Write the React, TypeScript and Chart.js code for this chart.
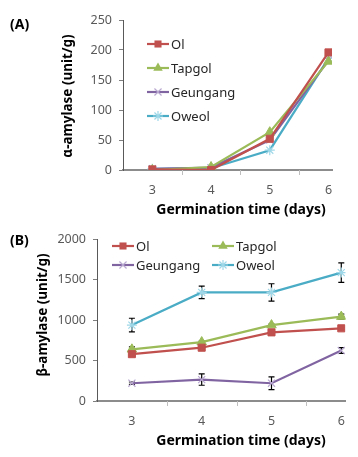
import React, { useEffect, useRef } from "react";
import { Chart, registerables } from "chart.js";

Chart.register(...registerables);

const days = [3, 4, 5, 6];
const seriesNames = ["Ol", "Tapgol", "Geungang", "Oweol"];
const colors = ["#C0504D", "#9BBB59", "#8064A2", "#4BACC6"];
const markerFill = ["#C0504D", "#9BBB59", "#B9A8D0", "#9ED8E8"];
const markers = ["rect", "triangle", "crossRot", "star"];

// (A) alpha-amylase
const alphaOl = [1, 0, 52, 196];
const alphaTapgol = [0, 5, 63, 181];
const alphaGeungang = [2, 4, 50, 183];
const alphaOweol = [2, 3, 33, 186];

// (B) beta-amylase
const betaOl = [580, 660, 850, 900];
const betaTapgol = [640, 730, 940, 1045];
const betaGeungang = [220, 265, 220, 625];
const betaOweol = [940, 1345, 1345, 1590];

const betaOlErr = [12, 12, 12, 12];
const betaTapgolErr = [30, 12, 12, 30];
const betaGeungangErr = [15, 70, 80, 35];
const betaOweolErr = [85, 78, 107, 120];

const yTicksA = [0, 50, 100, 150, 200, 250];
const yTicksB = [0, 500, 1000, 1500, 2000];

const FONT = "'Noto Sans', 'DejaVu Sans', sans-serif";

type Cfg = {
  values: number[][];
  errors?: number[][];
  yMax: number;
  yTicks: number[];
  height: number;
  left: number;
  right: number;
  top: number;
  bottom: number;
  panel: string;
  panelPos: [number, number];
  yTitle: string;
  yTitlePos: [number, number];
  xTitleY: number;
  tickPad: number;
  legend: { x: number; y: number }[];
};

function drawMarker(ctx: CanvasRenderingContext2D, style: string, x: number, y: number, r: number) {
  ctx.beginPath();
  if (style === "rect") {
    const s = r * Math.SQRT1_2;
    ctx.fillRect(x - s, y - s, 2 * s, 2 * s);
    return;
  }
  if (style === "triangle") {
    ctx.moveTo(x, y - r);
    ctx.lineTo(x + r * 0.866, y + r * 0.5);
    ctx.lineTo(x - r * 0.866, y + r * 0.5);
    ctx.closePath();
    ctx.fill();
    return;
  }
  const d = r * Math.SQRT1_2;
  ctx.moveTo(x - d, y - d);
  ctx.lineTo(x + d, y + d);
  ctx.moveTo(x - d, y + d);
  ctx.lineTo(x + d, y - d);
  if (style === "star") {
    ctx.moveTo(x, y - r);
    ctx.lineTo(x, y + r);
    ctx.moveTo(x - r, y);
    ctx.lineTo(x + r, y);
  }
  ctx.stroke();
}

function makeChart(canvas: HTMLCanvasElement, cfg: Cfg) {
  const W = 358;
  const datasets = cfg.values.map((vals, i) => ({
    label: seriesNames[i],
    data: days.map((d, j) => ({ x: d, y: vals[j] })),
    borderColor: colors[i],
    backgroundColor: markerFill[i],
    pointBorderColor: markerFill[i],
    pointBackgroundColor: markerFill[i],
    pointStyle: markers[i] as any,
    pointRadius: i === 1 ? 5.5 : 5,
    pointBorderWidth: i >= 2 ? 1.2 : 1,
    borderWidth: 2.2,
    errors: cfg.errors ? cfg.errors[i] : null,
  }));

  const customPlugin = {
    id: "custom",
    beforeDatasetsDraw(chart: any) {
      const ctx = chart.ctx;
      const xs = chart.scales.x;
      const ys = chart.scales.y;
      const y0 = chart.chartArea.bottom;
      ctx.save();
      ctx.strokeStyle = "#bfbfbf";
      ctx.lineWidth = 1;
      [3.5, 4.5, 5.5].forEach((v) => {
        const px = Math.round(xs.getPixelForValue(v)) + 0.5;
        ctx.beginPath();
        ctx.moveTo(px, y0);
        ctx.lineTo(px, y0 + 5);
        ctx.stroke();
      });
      ctx.strokeStyle = "#000";
      ctx.lineWidth = 1.2;
      chart.data.datasets.forEach((ds: any) => {
        if (!ds.errors) return;
        ds.data.forEach((p: any, j: number) => {
          const e = ds.errors[j];
          const px = xs.getPixelForValue(p.x);
          const yt = ys.getPixelForValue(p.y + e);
          const yb = ys.getPixelForValue(p.y - e);
          ctx.beginPath();
          ctx.moveTo(px, yt);
          ctx.lineTo(px, yb);
          ctx.moveTo(px - 3, yt);
          ctx.lineTo(px + 3, yt);
          ctx.moveTo(px - 3, yb);
          ctx.lineTo(px + 3, yb);
          ctx.stroke();
        });
      });
      ctx.restore();
    },
    afterDraw(chart: any) {
      const ctx = chart.ctx;
      ctx.save();
      ctx.fillStyle = "#000";
      ctx.font = `bold 14px ${FONT}`;
      ctx.textAlign = "left";
      ctx.textBaseline = "middle";
      ctx.fillText(cfg.panel, cfg.panelPos[0], cfg.panelPos[1]);
      ctx.font = `bold 14px ${FONT}`;
      ctx.textAlign = "center";
      ctx.fillText("Germination time (days)", 241, cfg.xTitleY);
      ctx.save();
      ctx.translate(cfg.yTitlePos[0], cfg.yTitlePos[1]);
      ctx.rotate(-Math.PI / 2);
      ctx.font = `bold 13.5px ${FONT}`;
      ctx.fillText(cfg.yTitle, 0, 0);
      ctx.restore();
      chart.data.datasets.forEach((ds: any, i: number) => {
        const pos = cfg.legend[i];
        ctx.strokeStyle = colors[i];
        ctx.lineWidth = 2.2;
        ctx.beginPath();
        ctx.moveTo(pos.x, pos.y);
        ctx.lineTo(pos.x + 22, pos.y);
        ctx.stroke();
        ctx.fillStyle = markerFill[i];
        ctx.strokeStyle = markerFill[i];
        ctx.lineWidth = i >= 2 ? 1.2 : 1;
        drawMarker(ctx, markers[i], pos.x + 11, pos.y, i === 1 ? 5.5 : 5);
        ctx.fillStyle = "#262626";
        ctx.font = `13px ${FONT}`;
        ctx.textAlign = "left";
        ctx.textBaseline = "middle";
        ctx.fillText(seriesNames[i], pos.x + 24, pos.y + 1);
      });
      ctx.restore();
    },
  };

  const H = cfg.height;
  return new Chart(canvas, {
    type: "line",
    data: { datasets: datasets as any },
    options: {
      animation: false,
      responsive: false,
      maintainAspectRatio: false,
      layout: {
        padding: { left: 0, right: W - cfg.right, top: cfg.top, bottom: 0 },
      },
      plugins: { legend: { display: false }, tooltip: { enabled: false } },
      scales: {
        x: {
          type: "linear",
          min: 2.5,
          max: 6.06,
          afterBuildTicks: (s: any) => {
            s.ticks = days.map((v) => ({ value: v }));
          },
          afterFit: (s: any) => {
            s.height = H - cfg.bottom;
          },
          grid: { display: false, drawTicks: false },
          border: { display: true, color: "#8c8c8c", width: 2 },
          ticks: {
            padding: cfg.tickPad,
            color: "#595959",
            font: { family: FONT, size: 12.5 },
            maxRotation: 0,
            autoSkip: false,
            callback: (v: any) => String(v),
          },
        },
        y: {
          type: "linear",
          min: 0,
          max: cfg.yMax,
          afterBuildTicks: (s: any) => {
            s.ticks = cfg.yTicks.map((v) => ({ value: v }));
          },
          afterFit: (s: any) => {
            s.width = cfg.left;
          },
          grid: {
            display: true,
            drawOnChartArea: false,
            drawTicks: true,
            tickLength: 4,
            color: "#7f7f7f",
          },
          border: { display: true, color: "#595959", width: 1 },
          ticks: {
            padding: 7,
            color: "#595959",
            font: { family: FONT, size: 12.5 },
            callback: (v: any) => String(v),
          },
        },
      },
    },
    plugins: [customPlugin as any],
  });
}

export default function App() {
  const refA = useRef<HTMLCanvasElement>(null);
  const refB = useRef<HTMLCanvasElement>(null);

  useEffect(() => {
    const a = makeChart(refA.current!, {
      values: [alphaOl, alphaTapgol, alphaGeungang, alphaOweol],
      yMax: 250,
      yTicks: yTicksA,
      height: 225,
      left: 123,
      right: 332,
      top: 20,
      bottom: 170,
      panel: "(A)",
      panelPos: [10, 25],
      yTitle: "α-amylase (unit/g)",
      yTitlePos: [68, 96],
      xTitleY: 210,
      tickPad: 13,
      legend: [
        { x: 147, y: 44 },
        { x: 147, y: 68 },
        { x: 147, y: 92 },
        { x: 147, y: 116 },
      ],
    });
    const b = makeChart(refB.current!, {
      values: [betaOl, betaTapgol, betaGeungang, betaOweol],
      errors: [betaOlErr, betaTapgolErr, betaGeungangErr, betaOweolErr],
      yMax: 2000,
      yTicks: yTicksB,
      height: 232,
      left: 97,
      right: 350,
      top: 11,
      bottom: 176,
      panel: "(B)",
      panelPos: [10, 16],
      yTitle: "β-amylase (unit/g)",
      yTitlePos: [43, 90],
      xTitleY: 216,
      tickPad: 13,
      legend: [
        { x: 112, y: 21 },
        { x: 212, y: 21 },
        { x: 112, y: 40 },
        { x: 212, y: 40 },
      ],
    });
    return () => {
      a.destroy();
      b.destroy();
    };
  }, []);

  return (
    <div style={{ position: "fixed", left: 0, top: 0, width: 358, height: 457, background: "#fff" }}>
      <canvas ref={refA} width={358} height={225} style={{ position: "absolute", left: 0, top: 0, width: 358, height: 225 }} />
      <canvas ref={refB} width={358} height={232} style={{ position: "absolute", left: 0, top: 225, width: 358, height: 232 }} />
    </div>
  );
}
